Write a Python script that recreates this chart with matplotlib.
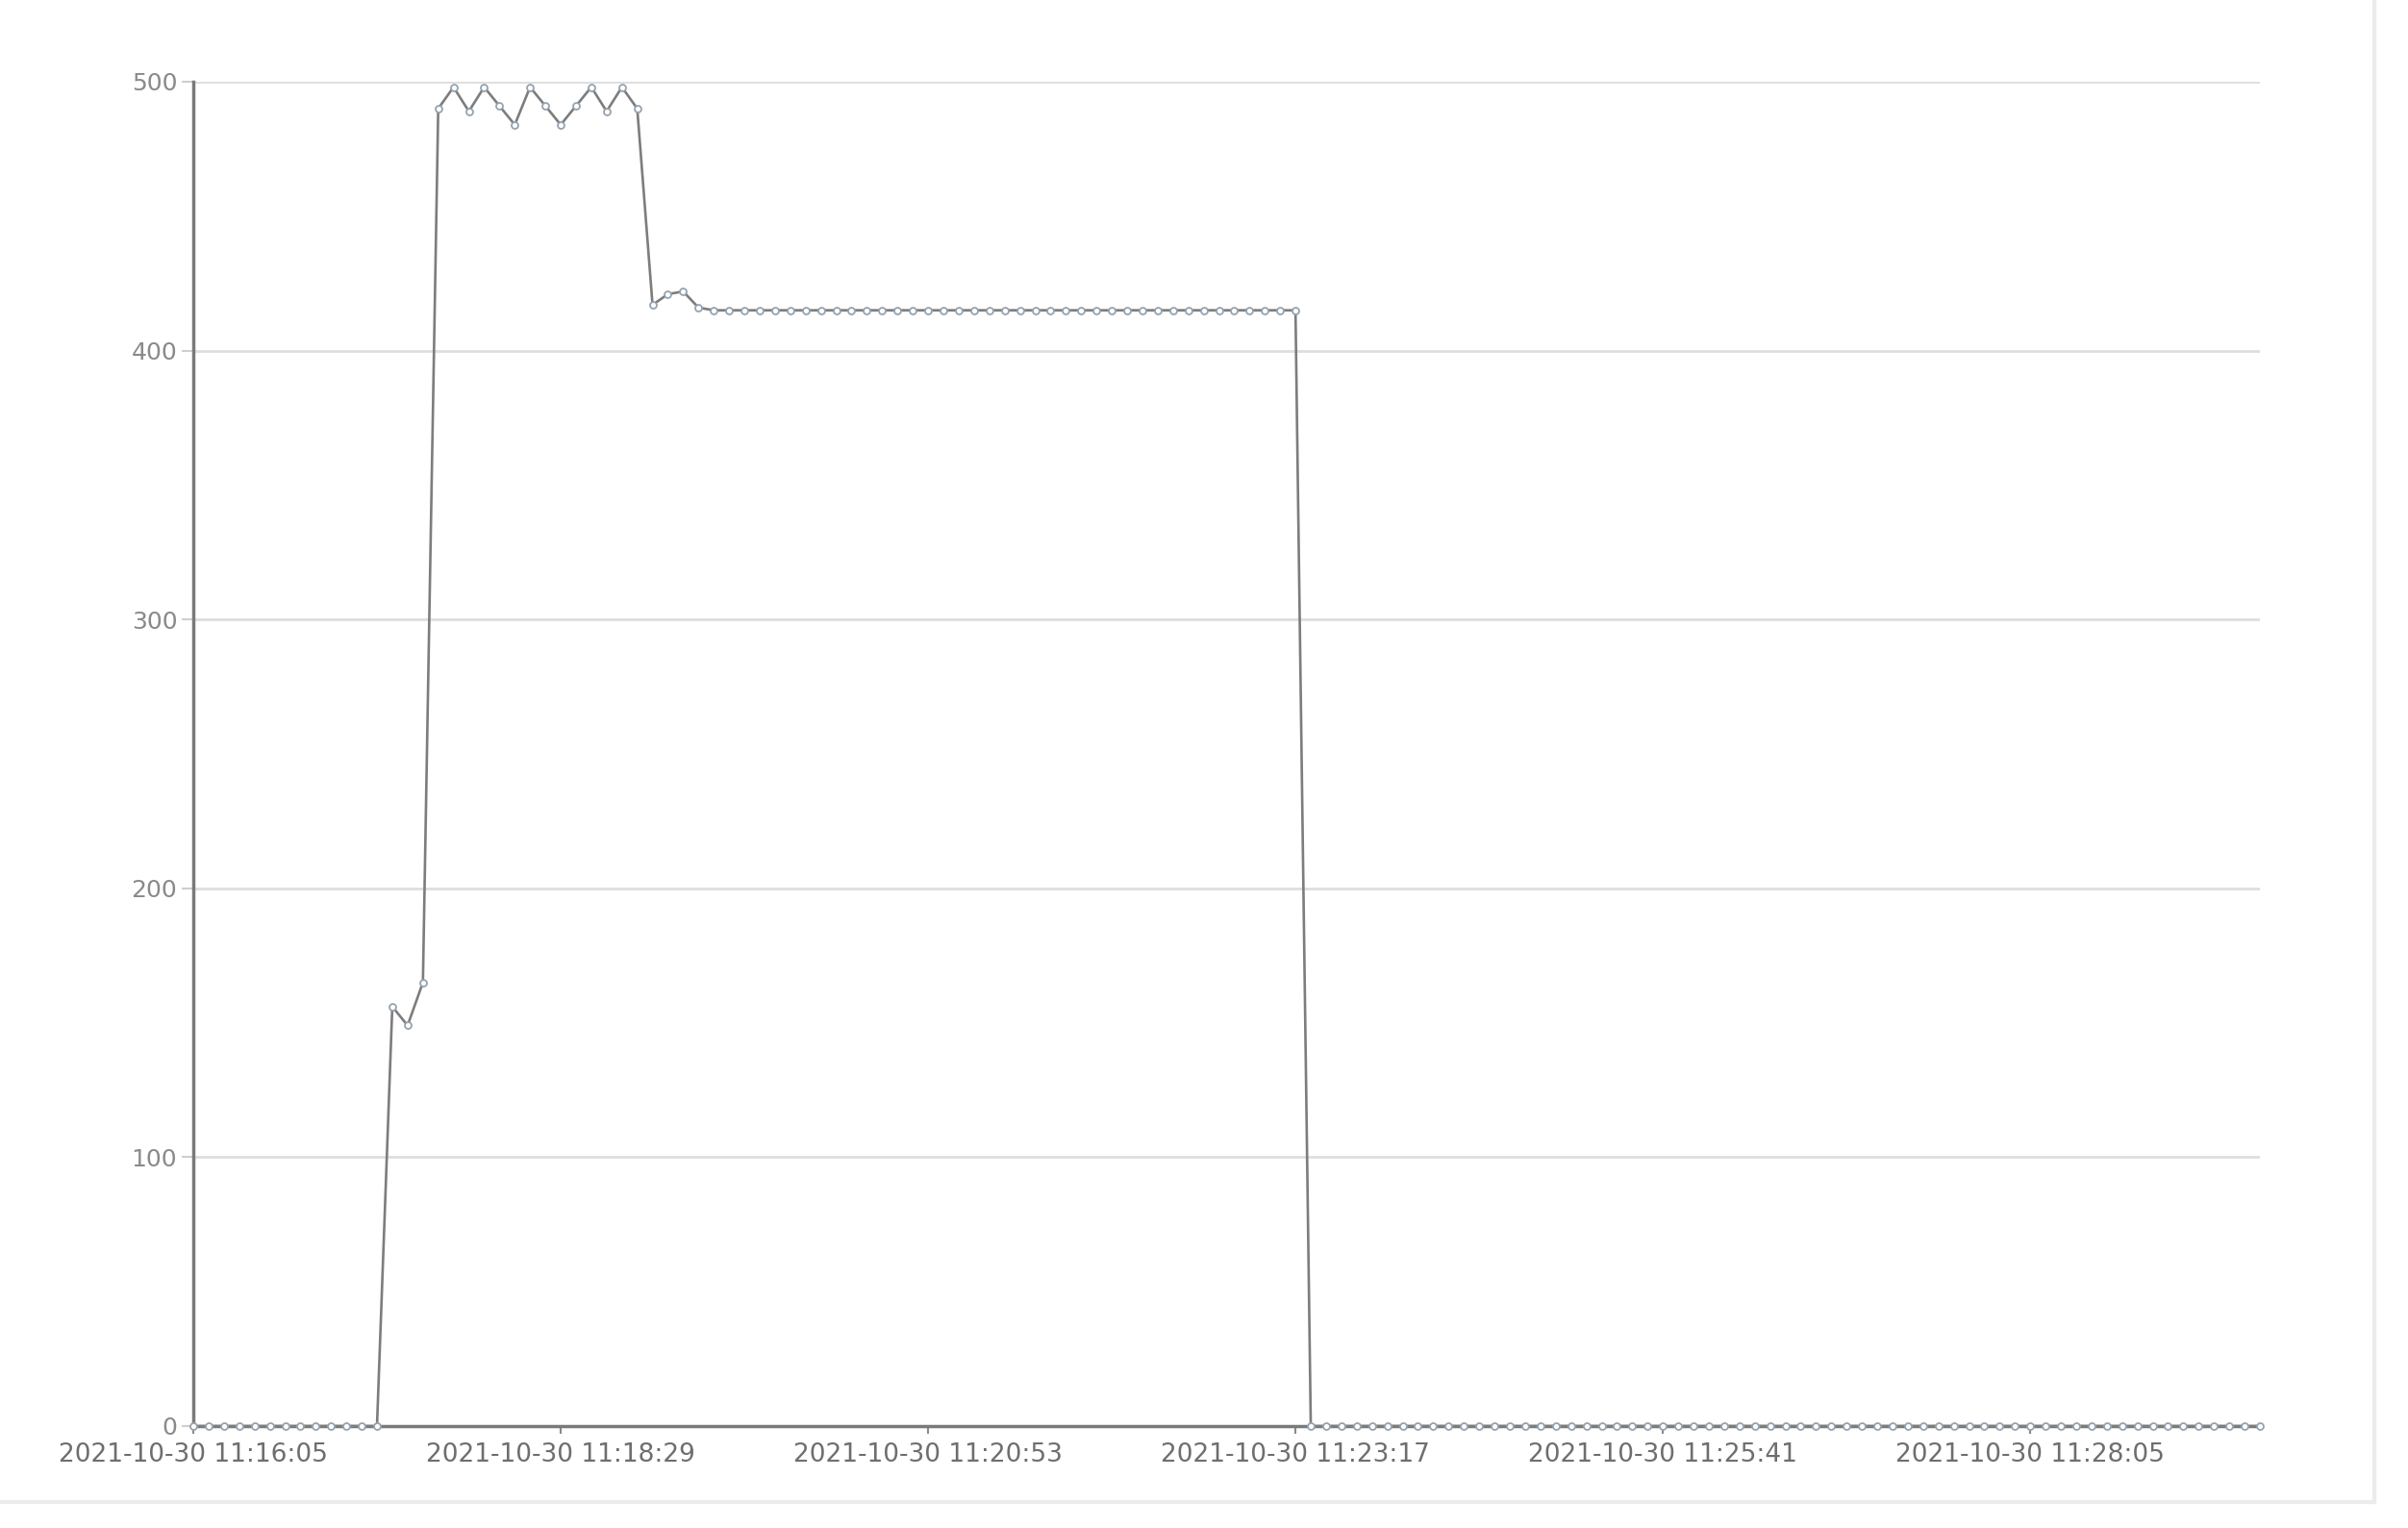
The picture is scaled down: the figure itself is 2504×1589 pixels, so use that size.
import matplotlib
matplotlib.use("Agg")
import matplotlib.pyplot as plt
from matplotlib.lines import Line2D
import pandas as pd

# ---- data -------------------------------------------------------------
start_time = "2021-10-30 11:16:05"
sample_seconds = 6

values = [
    # idle
    0, 0, 0, 0, 0, 0, 0, 0, 0, 0, 0, 0, 0,
    # ramp
    156, 149, 165,
    # peak
    490, 498, 489, 498, 491, 484, 498, 491, 484, 491, 498, 489, 498, 490,
    # settle
    417, 421, 422, 416,
    # plateau
    415, 415, 415, 415, 415, 415, 415, 415, 415, 415,
    415, 415, 415, 415, 415, 415, 415, 415, 415, 415,
    415, 415, 415, 415, 415, 415, 415, 415, 415, 415,
    415, 415, 415, 415, 415, 415, 415, 415, 415,
    # stopped
    0, 0, 0, 0, 0, 0, 0, 0, 0, 0,
    0, 0, 0, 0, 0, 0, 0, 0, 0, 0,
    0, 0, 0, 0, 0, 0, 0, 0, 0, 0,
    0, 0, 0, 0, 0, 0, 0, 0, 0, 0,
    0, 0, 0, 0, 0, 0, 0, 0, 0, 0,
    0, 0, 0, 0, 0, 0, 0, 0, 0, 0,
    0, 0, 0,
]

tick_labels = [
    "2021-10-30 11:16:05",
    "2021-10-30 11:18:29",
    "2021-10-30 11:20:53",
    "2021-10-30 11:23:17",
    "2021-10-30 11:25:41",
    "2021-10-30 11:28:05",
]
y_ticks = [0, 100, 200, 300, 400, 500]

times = pd.date_range(start_time, periods=len(values), freq=f"{sample_seconds}s")

# ---- figure -----------------------------------------------------------
W, H, DPI = 2504, 1589, 100
fig = plt.figure(figsize=(W / DPI, H / DPI), dpi=DPI, facecolor="white")
ax = fig.add_axes([201 / W, 1 - 1483 / H, (2350 - 201) / W, (1483 - 85) / H])

ax.plot(times, values, color="#7d7d7d", lw=1.9, marker="o", ms=5.0,
        mfc="white", mec="#95a3b1", mew=1.3, zorder=3, clip_on=False)

ax.set_xlim(times[0], times[-1])
ax.set_ylim(0, 500)

ax.set_yticks(y_ticks)
ax.set_yticklabels([str(v) for v in y_ticks])
ax.set_xticks(pd.to_datetime(tick_labels))
ax.set_xticklabels(tick_labels)

ax.grid(axis="y", color="#dedede", lw=2.0, zorder=0)
ax.grid(axis="x", visible=False)

for s in ["top", "right"]:
    ax.spines[s].set_visible(False)
for s in ["left", "bottom"]:
    ax.spines[s].set_color("#7a7a7a")
    ax.spines[s].set_linewidth(2.5)

ax.tick_params(axis="y", length=9, width=1.5, color="#cfcfcf", pad=3,
               labelsize=18, labelcolor="#8a8a8a")
ax.tick_params(axis="x", length=6, width=1.5, color="#8a8a8a", pad=6,
               labelsize=19, labelcolor="#6e6e6e")

# faint frame of the original screenshot
fig.add_artist(Line2D([2469 / W, 2469 / W], [1 - 1562 / H, 1], transform=fig.transFigure,
                      color="#ececec", lw=3))
fig.add_artist(Line2D([0, 2469 / W], [1 - 1562 / H, 1 - 1562 / H], transform=fig.transFigure,
                      color="#ececec", lw=3))

fig.savefig("out.png", dpi=DPI, facecolor="white")
